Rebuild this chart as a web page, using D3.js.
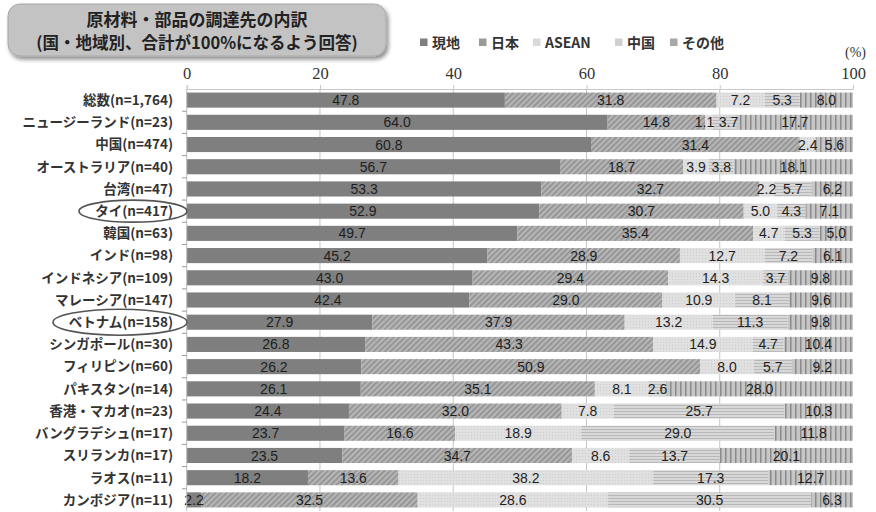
<!DOCTYPE html>
<html>
<head>
<meta charset="utf-8">
<script src="https://cdn.jsdelivr.net/npm/d3@7"></script>
<style>
  html, body { margin: 0; padding: 0; background: #fff; }
  svg { display: block; }
</style>
</head>
<body>
<svg id="chart" width="876" height="512"></svg>
<script>
// Procurement sources of raw materials and parts, by country/region (each row sums to ~100%)
const categories = [
  "総数(n=1,764)", "ニュージーランド(n=23)", "中国(n=474)", "オーストラリア(n=40)",
  "台湾(n=47)", "タイ(n=417)", "韓国(n=63)", "インド(n=98)", "インドネシア(n=109)",
  "マレーシア(n=147)", "ベトナム(n=158)", "シンガポール(n=30)", "フィリピン(n=60)",
  "パキスタン(n=14)", "香港・マカオ(n=23)", "バングラデシュ(n=17)", "スリランカ(n=17)",
  "ラオス(n=11)", "カンボジア(n=11)"
];
const seriesNames = ["現地", "日本", "ASEAN", "中国", "その他"];

const local  = [47.8, 64.0, 60.8, 56.7, 53.3, 52.9, 49.7, 45.2, 43.0, 42.4, 27.9, 26.8, 26.2, 26.1, 24.4, 23.7, 23.5, 18.2, 2.2];
const japan  = [31.8, 14.8, 31.4, 18.7, 32.7, 30.7, 35.4, 28.9, 29.4, 29.0, 37.9, 43.3, 50.9, 35.1, 32.0, 16.6, 34.7, 13.6, 32.5];
const asean  = [7.2, 1.1, 2.4, 3.9, 2.2, 5.0, 4.7, 12.7, 14.3, 10.9, 13.2, 14.9, 8.0, 8.1, 7.8, 18.9, 8.6, 38.2, 28.6];
const china  = [5.3, 3.7, 0, 3.8, 5.7, 4.3, 5.3, 7.2, 3.7, 8.1, 11.3, 4.7, 5.7, 2.6, 25.7, 29.0, 13.7, 17.3, 30.5];
const other  = [8.0, 17.7, 5.6, 18.1, 6.2, 7.1, 5.0, 6.1, 9.8, 9.6, 9.8, 10.4, 9.2, 28.0, 10.3, 11.8, 20.1, 12.7, 6.3];

const xTicks = [0, 20, 40, 60, 80, 100];
const circled = ["タイ(n=417)", "ベトナム(n=158)"];

const seriesValues = [local, japan, asean, china, other];

const svg = d3.select("#chart");
const jp = "'Noto Sans CJK JP', 'Noto Sans', sans-serif";

// ---- fills ----
const defs = svg.append("defs");

const pHatch = defs.append("pattern").attr("id", "fillJapan")
  .attr("patternUnits", "userSpaceOnUse").attr("width", 4).attr("height", 4)
  .attr("patternTransform", "rotate(-45)");
pHatch.append("rect").attr("width", 4).attr("height", 4).attr("fill", "#b5b5b5");
pHatch.append("rect").attr("width", 4).attr("height", 1.5).attr("fill", "#8e8e8e");

const pDots = defs.append("pattern").attr("id", "fillAsean")
  .attr("patternUnits", "userSpaceOnUse").attr("width", 3).attr("height", 3);
pDots.append("rect").attr("width", 3).attr("height", 3).attr("fill", "#e0e0e0");
pDots.append("rect").attr("width", 1).attr("height", 1).attr("fill", "#cdcdcd");

const pHoriz = defs.append("pattern").attr("id", "fillChina")
  .attr("patternUnits", "userSpaceOnUse").attr("width", 4).attr("height", 3);
pHoriz.append("rect").attr("width", 4).attr("height", 3).attr("fill", "#d8d8d8");
pHoriz.append("rect").attr("width", 4).attr("height", 1).attr("fill", "#b8b8b8");

const pVert = defs.append("pattern").attr("id", "fillOther")
  .attr("patternUnits", "userSpaceOnUse").attr("width", 5).attr("height", 4);
pVert.append("rect").attr("width", 5).attr("height", 4).attr("fill", "#c6c6c6");
pVert.append("rect").attr("width", 1.5).attr("height", 4).attr("fill", "#8a8a8a");

const fills = ["#7f7f7f", "url(#fillJapan)", "url(#fillAsean)", "url(#fillChina)", "url(#fillOther)"];
const legendFills = ["#7f7f7f", "#9a9a9a", "#dadada", "#cfcfcf", "#a8a8a8"];

const shadow = defs.append("filter").attr("id", "boxShadow")
  .attr("x", "-5%").attr("y", "-10%").attr("width", "115%").attr("height", "140%");
shadow.append("feGaussianBlur").attr("in", "SourceAlpha").attr("stdDeviation", 2);
shadow.append("feOffset").attr("dx", 2).attr("dy", 3).attr("result", "off");
shadow.append("feComponentTransfer").append("feFuncA").attr("type", "linear").attr("slope", 0.45);
const merge = shadow.append("feMerge");
merge.append("feMergeNode");
merge.append("feMergeNode").attr("in", "SourceGraphic");

// ---- scales ----
const x = d3.scaleLinear().domain([0, 100]).range([186.7, 853]);
const y = d3.scaleBand().domain(categories).range([89, 511]).paddingInner(0.32).paddingOuter(0.16);

// ---- title box ----
svg.append("rect").attr("x", 8).attr("y", 4).attr("width", 378).attr("height", 52)
  .attr("rx", 12).attr("fill", "#c3c3c3").attr("stroke", "#a8a8a8").attr("stroke-width", 1)
  .attr("filter", "url(#boxShadow)");
const title = svg.append("text").attr("text-anchor", "middle")
  .attr("font-family", jp).attr("font-weight", "bold").attr("fill", "#222");
title.append("tspan").attr("x", 197).attr("y", 26).attr("font-size", 17)
  .text("原材料・部品の調達先の内訳");
title.append("tspan").attr("x", 197).attr("y", 49).attr("font-size", 16.5)
  .text("(国・地域別、合計が100%になるよう回答)");

// ---- legend ----
const legendX = [432, 491, 545, 627, 682];
const legend = svg.append("g").attr("font-family", jp).attr("font-size", 14)
  .attr("font-weight", "bold").attr("fill", "#333");
seriesNames.forEach((name, i) => {
  legend.append("rect").attr("x", legendX[i] - 12).attr("y", 38.5).attr("width", 7.5).attr("height", 7.5)
    .attr("fill", legendFills[i]);
  legend.append("text").attr("x", legendX[i]).attr("y", 47.5).text(name);
});
svg.append("text").attr("x", 866).attr("y", 57).attr("text-anchor", "end")
  .attr("font-family", "'Liberation Serif', serif").attr("font-size", 14).attr("fill", "#333")
  .text("(%)");

// ---- grid ----
svg.append("g").selectAll("line").data(xTicks.filter(t => t > 0 && t < 100)).join("line")
  .attr("x1", d => x(d)).attr("x2", d => x(d)).attr("y1", 89).attr("y2", 511)
  .attr("stroke", "#c4c4c4").attr("stroke-width", 1);

// ---- top axis ----
const xAxis = svg.append("g").attr("transform", "translate(0,89)")
  .call(d3.axisTop(x).tickValues(xTicks).tickSize(4).tickPadding(6).tickFormat(d3.format("d")));
xAxis.attr("font-size", 16.5).attr("font-family", "'Liberation Serif', serif");
xAxis.select(".domain").attr("stroke", "#c8c8c8");
xAxis.selectAll(".tick line").attr("stroke", "#c8c8c8");
xAxis.selectAll("text").attr("fill", "#333");

// ---- stacked bars (normalised to 100% per row) ----
const rows = categories.map((cat, r) => {
  const vals = seriesValues.map(s => s[r]);
  const total = d3.sum(vals);
  let cum = 0;
  return vals.map((v, i) => {
    const seg = { cat, i, v, x0: cum / total * 100, x1: (cum + v) / total * 100 };
    cum += v;
    return seg;
  }).filter(d => d.v > 0);
});
const segs = rows.flat();

svg.append("g").selectAll("rect").data(segs).join("rect")
  .attr("x", d => x(d.x0)).attr("width", d => x(d.x1) - x(d.x0))
  .attr("y", d => y(d.cat)).attr("height", y.bandwidth())
  .attr("fill", d => fills[d.i]);

// value labels: centred in their segment, nudged apart where neighbours collide
const fmt = d3.format(".1f");
const labels = [];
rows.forEach(row => {
  const items = row.map(d => ({ d, text: fmt(d.v), cx: x((d.x0 + d.x1) / 2), w: fmt(d.v).length * 7.3 + 2 }));
  for (let iter = 0; iter < 20; iter++) {
    for (let k = 0; k < items.length - 1; k++) {
      const a = items[k], b = items[k + 1];
      const overlap = (a.cx + a.w / 2) - (b.cx - b.w / 2);
      if (overlap > 0) { a.cx -= overlap / 2; b.cx += overlap / 2; }
    }
  }
  labels.push(...items);
});

svg.append("g").selectAll("text").data(labels).join("text")
  .attr("x", l => l.cx).attr("y", l => y(l.d.cat) + y.bandwidth() / 2)
  .attr("dy", "0.36em").attr("text-anchor", "middle")
  .attr("font-family", "'Liberation Sans', Arial, sans-serif").attr("font-size", 14)
  .attr("fill", "#1e1e1e")
  .text(l => l.text);

// ---- left axis ----
svg.append("line").attr("x1", 186.7).attr("x2", 186.7).attr("y1", 89).attr("y2", 511)
  .attr("stroke", "#bdbdbd");
const bounds = categories.map(c => y(c) - y.step() * y.paddingInner() / 2).slice(1);
svg.append("g").selectAll("line").data(bounds).join("line")
  .attr("x1", 182).attr("x2", 186.7).attr("y1", d => d).attr("y2", d => d)
  .attr("stroke", "#9a9a9a");

svg.append("g").selectAll("text").data(categories).join("text")
  .attr("x", 173).attr("y", d => y(d) + y.bandwidth() / 2).attr("dy", "0.36em")
  .attr("text-anchor", "end").attr("font-family", jp).attr("font-size", 13.5)
  .attr("font-weight", "bold").attr("fill", "#333")
  .text(d => d);

// ---- highlight ellipses ----
const ellipseSpec = { "タイ(n=417)": { cx: 133, rx: 54, ry: 11 }, "ベトナム(n=158)": { cx: 120, rx: 67, ry: 13 } };
svg.append("g").selectAll("ellipse").data(circled).join("ellipse")
  .attr("cx", d => ellipseSpec[d].cx).attr("cy", d => y(d) + y.bandwidth() / 2)
  .attr("rx", d => ellipseSpec[d].rx).attr("ry", d => ellipseSpec[d].ry)
  .attr("fill", "none").attr("stroke", "#555").attr("stroke-width", 1.6);
</script>
</body>
</html>
